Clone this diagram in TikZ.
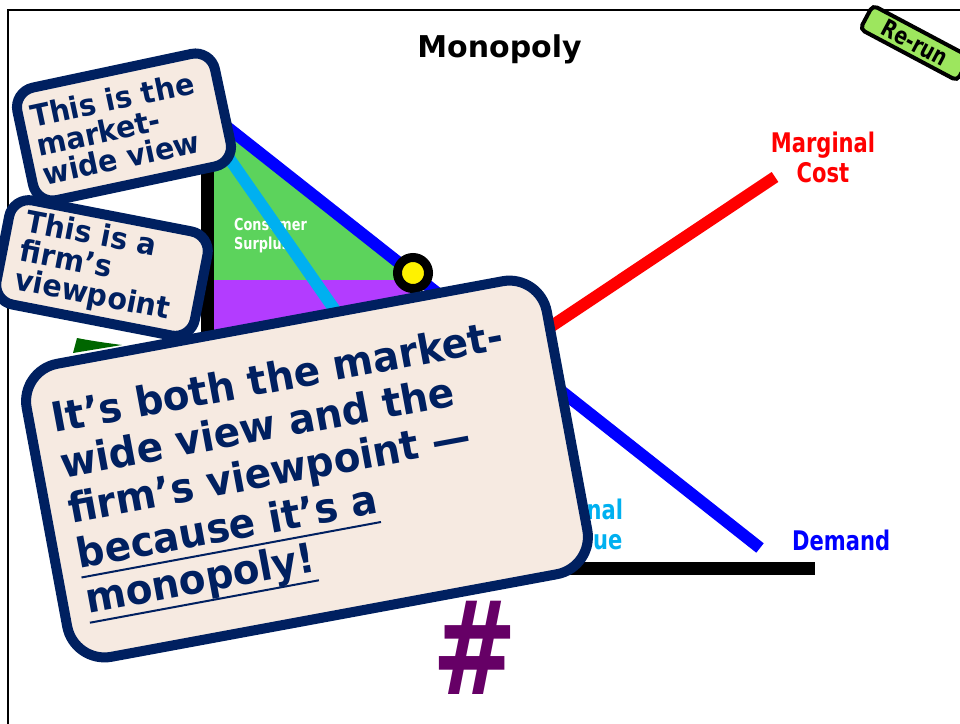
\documentclass[tikz,border=0pt]{standalone}
\usepackage{fontspec}
\usepackage{xcolor}
\setmainfont{DejaVu Sans}
\newfontfamily\narrowfont[FakeStretch=0.78]{DejaVu Sans}
\newfontfamily\notefont[FakeStretch=0.95]{DejaVu Sans}
\usetikzlibrary{positioning,calc}

\definecolor{navy}{HTML}{002060}
\definecolor{note}{HTML}{F6EAE1}
\definecolor{surplus}{HTML}{5CD35C}
\definecolor{transfer}{HTML}{B33CFF}
\definecolor{mrcyan}{HTML}{00B0F0}
\definecolor{rerun}{HTML}{9DE65E}
\definecolor{hashcol}{HTML}{660066}
\definecolor{darkgrn}{HTML}{006600}

\newsavebox\ulbox
\newcommand\ulwords[1]{\leavevmode\sbox\ulbox{#1}\rlap{\vrule height -8pt depth 10pt width \wd\ulbox}\usebox\ulbox}

\tikzset{
  curve/.style={line width=12pt},
  axis/.style={line width=13pt, black},
  callout/.style={draw=navy, fill=note, line width=10pt, rounded corners=20pt, align=left, text=navy,
    font=\notefont\bfseries\fontsize{30}{29.5}\selectfont},
  curvelabel/.style={font=\narrowfont\bfseries\fontsize{27}{30}\selectfont, align=center, inner sep=0pt}
}

\begin{document}
\begin{tikzpicture}[x=1pt, y=-1pt]
    \useasboundingbox (0,0) rectangle (960,723);
    \clip (0,0) rectangle (960,723);
    \draw[line width=2.5pt] (8,10) rectangle (1000,760);

    \coordinate (D0) at (208,112);
    \coordinate (D1) at (760,548);
    \coordinate (R0) at (215,138);
    \coordinate (R1) at (495,540);
    \coordinate (C0) at (330,474);
    \coordinate (C1) at (775,177);
    \coordinate (M) at (413,273);

    \fill[surplus] (213,116) -- (213,280) -- (420.5,280) -- cycle;
    \fill[transfer] (213,280) rectangle (413,420);
    \node[anchor=west, align=left, text=white, inner sep=0pt,
      font=\narrowfont\bfseries\fontsize{16.5}{19}\selectfont] (cslabel) at (234,236) {Consumer\\Surplus};
    \draw[axis] (207,105) -- (207,568) -- (815,568);

    \draw[curve, mrcyan] (R0) -- (R1);
    \draw[curve, blue] (D0) -- (D1);
    \draw[curve, red] (C0) -- (C1);
    \draw[line width=9pt, fill=yellow] (M) circle[radius=15.5];

    \node[curvelabel, red] (mclabel) at (823,157) {Marginal\\Cost};
    \node[curvelabel, mrcyan] (mrlabel) at (571,524) {Marginal\\Revenue};
    \node[curvelabel, blue, anchor=base west] (dlabel) at (792,550) {Demand};
    \node[font=\bfseries\fontsize{30}{30}\selectfont, anchor=base] (title) at (499.5,57.7) {Monopoly};

    \fill[darkgrn] (73,353) -- (77,338) .. controls (92,341) and (107,343) .. (122,345) -- cycle;
    \node[font=\narrowfont\bfseries\fontsize{130}{130}\selectfont, text=hashcol, anchor=base, inner sep=0pt] (hashmark) at (475,694) {\#};

    \node[callout, rotate=12, minimum width=202pt, minimum height=115pt, text width=178pt, inner xsep=12pt]
      (marketbox) at (124,127) {This is the\\market-\\wide view};
    \node[callout, rotate=-11, minimum width=202pt, minimum height=106pt, text width=166pt, inner xsep=18pt]
      (firmbox) at (102,268) {This is a\\firm’s\\viewpoint};
    \node[callout, rotate=10.5, rounded corners=38pt, minimum width=529pt, minimum height=298pt, text width=483pt,
      inner xsep=23pt, font=\notefont\bfseries\fontsize{41}{46}\selectfont]
      (bothbox) at (307,469) {It’s both the market-\\wide view and the\\firm’s viewpoint —\\\ulwords{because it’s a}\\\ulwords{monopoly!}};

    \node[draw=black, fill=rerun, line width=4pt, rounded corners=5pt, rotate=-28, minimum width=110pt, minimum height=27pt,
      font=\narrowfont\bfseries\fontsize{24}{24}\selectfont] (rerun) at (915,43) {Re-run};
\end{tikzpicture}
\end{document}
